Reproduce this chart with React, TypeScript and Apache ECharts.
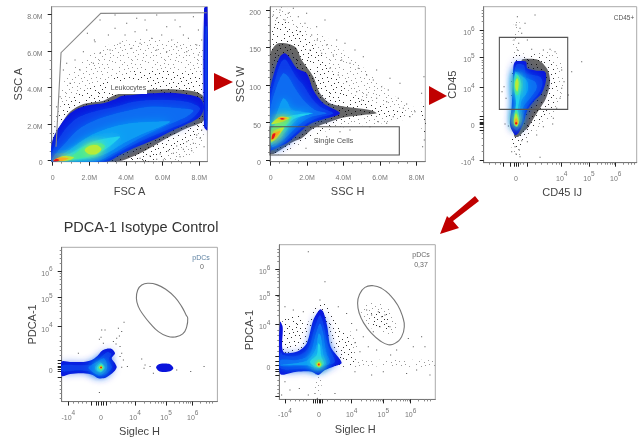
import React, { useEffect, useRef } from "react";
import * as echarts from "echarts";

type Pt = number[];
type Poly = [number, Pt[]];

const FONT = "Liberation Sans";
const levelColors = ["#0a14dc", "#0a3cea", "#0c6cf2", "#109cf4", "#20d0ee", "#40e8a0", "#b8ec38", "#f8b020", "#e81818"];

// ---- speckle tiles (hand placed dots)
const tileA = [[2, 5], [9, 1], [17, 7], [25, 3], [30, 11], [6, 13], [13, 17], [21, 14], [28, 20], [3, 23], [10, 27], [18, 24], [25, 29], [32, 30]];
const tileB = [[0, 1], [5, 2], [13, 3], [20, 1], [29, 2], [3, 8], [8, 6], [12, 9], [20, 5], [23, 8], [27, 7], [31, 5], [1, 12], [9, 11], [15, 12], [18, 11], [25, 12], [4, 17], [8, 16], [11, 20], [16, 15], [19, 19], [23, 17], [26, 16], [31, 15], [1, 19], [6, 21], [14, 22], [21, 22], [29, 24], [0, 27], [5, 26], [8, 31], [13, 28], [16, 29], [21, 27], [23, 31], [28, 32], [32, 26], [3, 31], [11, 24], [24, 22]];

// ---- panel 1 : FSC A / SSC A (axes in display channels)
const p1XMajor = [158, 268, 378, 488, 598];
const p1XMinor = [185, 213, 240, 295, 323, 350, 405, 433, 460, 515, 543, 570];
const p1XLabels = ["0", "2.0M", "4.0M", "6.0M", "8.0M"];
const p1YMajor = [20, 128, 238, 347, 457];
const p1YMinor = [47, 74, 101, 155, 183, 210, 265, 292, 320, 374, 402, 429];
const p1YLabels = ["0", "2.0M", "4.0M", "6.0M", "8.0M"];
const p1Halo: Poly[] = [
  [0, [[158, 90], [175, 200], [200, 270], [260, 330], [340, 370], [440, 385], [560, 375], [616, 360], [616, 110], [540, 60], [440, 16], [158, 16]]],
  [0, [[330, 15], [540, 15], [612, 85], [612, 150], [330, 30]]],
  [1, [[158, 85], [180, 170], [215, 210], [270, 235], [340, 265], [420, 290], [520, 285], [612, 270], [612, 130], [520, 80], [440, 45], [360, 20], [158, 15]]],
  [1, [[340, 15], [470, 18], [560, 75], [612, 120], [612, 150], [340, 30]]],
  [2, [[158, 80], [185, 130], [210, 165], [250, 188], [310, 198], [345, 215], [400, 226], [500, 232], [580, 226], [612, 208], [612, 140], [560, 115], [500, 85], [420, 40], [350, 15], [158, 15]]],
];
const p1Contours: Poly[] = [
  [0, [[157, 75], [175, 115], [205, 155], [235, 175], [270, 185], [310, 190], [345, 202], [365, 212], [400, 215], [450, 220], [510, 222], [570, 215], [600, 205], [612, 180], [600, 150], [560, 128], [510, 105], [460, 80], [400, 55], [350, 30], [320, 15], [157, 15]]],
  [0, [[612, 475], [622, 480], [622, 110], [612, 120]]],
  [1, [[157, 45], [190, 105], [230, 145], [280, 165], [340, 178], [400, 195], [480, 200], [560, 195], [600, 175], [570, 140], [500, 110], [430, 80], [360, 45], [300, 15], [157, 15]]],
  [1, [[616, 120], [621, 120], [621, 420], [616, 420]]],
  [2, [[157, 25], [195, 70], [240, 115], [300, 145], [370, 165], [450, 180], [540, 175], [580, 168], [550, 145], [480, 115], [400, 75], [340, 40], [290, 15], [157, 15]]],
  [3, [[175, 22], [215, 55], [265, 90], [325, 115], [390, 130], [460, 135], [510, 135], [470, 115], [420, 95], [370, 70], [320, 40], [260, 22]]],
  [4, [[170, 22], [215, 42], [270, 72], [320, 85], [360, 90], [345, 75], [320, 55], [290, 35], [240, 22]]],
  [5, [[175, 20], [210, 30], [255, 60], [300, 70], [315, 60], [285, 38], [235, 24]]],
  [6, [[254, 50], [268, 62], [292, 64], [304, 52], [290, 38], [266, 38]]],
  [6, [[162, 18], [190, 32], [222, 28], [210, 20], [180, 16]]],
  [7, [[160, 18], [175, 27], [205, 25], [190, 18]]],
  [8, [[160, 16], [168, 24], [178, 20], [172, 16]]],
];
const p1Dots: Pt[] = [[300, 440], [345, 455], [380, 430], [410, 445], [440, 410], [470, 455], [500, 420], [525, 440], [550, 395], [580, 450], [595, 410], [605, 380], [325, 395], [285, 375], [250, 345], [225, 320], [190, 290], [345, 415], [375, 395], [405, 405], [435, 440], [455, 385], [485, 395], [515, 380], [540, 420], [565, 385], [590, 365], [330, 350], [300, 340], [360, 370], [395, 355], [420, 370], [470, 350], [500, 345], [530, 360], [560, 345], [595, 335], [280, 310], [240, 290], [210, 250], [180, 210], [172, 150], [165, 120], [200, 310], [262, 400], [283, 380], [170, 180], [420, 25], [450, 32], [480, 38], [505, 48], [530, 62], [560, 75], [590, 95], [605, 110], [430, 18], [470, 22], [520, 40], [550, 52], [580, 70], [600, 85], [490, 20], [540, 30], [575, 48], [612, 60]];
const p1Gate: Pt[] = [[168, 60], [183, 342], [302, 460], [620, 462]];

// ---- panel 2 : SSC H / SSC W
const p2XMajor = [122, 231, 340, 450, 560];
const p2XMinor = [149, 176, 204, 258, 285, 313, 367, 395, 422, 477, 505, 532];
const p2XLabels = ["0", "2.0M", "4.0M", "6.0M", "8.0M"];
const p2YMajor = [20, 132, 245, 358, 470];
const p2YMinor = [42, 65, 87, 110, 155, 177, 200, 222, 268, 290, 313, 335, 380, 403, 425, 448];
const p2YLabels = ["0", "50", "100", "150", "200"];
const p2Halo: Poly[] = [
  [0, [[122, 330], [130, 470], [165, 478], [200, 440], [300, 380], [420, 280], [480, 220], [560, 170], [520, 140], [300, 110], [120, 40]]],
  [1, [[120, 300], [125, 400], [150, 440], [195, 420], [260, 360], [310, 280], [360, 220], [440, 190], [520, 165], [520, 150], [400, 150], [300, 120], [230, 80], [120, 40]]],
  [2, [[120, 225], [122, 340], [145, 370], [195, 360], [215, 320], [250, 270], [270, 220], [300, 190], [345, 180], [420, 170], [440, 160], [400, 155], [345, 148], [300, 135], [250, 115], [215, 85], [190, 75], [120, 40]]],
  [1, [[574, 190], [586, 190], [586, 100], [578, 100], [574, 130]]],
];
const p2Contours: Poly[] = [
  [0, [[120, 225], [135, 290], [150, 330], [165, 340], [180, 325], [200, 295], [230, 280], [250, 230], [280, 190], [330, 160], [280, 142], [240, 128], [200, 95], [170, 70], [125, 50], [120, 38]]],
  [1, [[120, 190], [138, 270], [152, 312], [165, 322], [178, 305], [198, 270], [220, 245], [245, 205], [270, 180], [310, 160], [260, 145], [225, 125], [190, 95], [160, 70], [122, 52]]],
  [2, [[120, 165], [140, 240], [160, 280], [175, 270], [195, 235], [220, 200], [255, 170], [290, 160], [240, 148], [200, 120], [165, 85], [125, 60]]],
  [3, [[122, 110], [142, 165], [160, 205], [172, 195], [185, 170], [215, 165], [250, 160], [210, 148], [175, 115], [150, 85], [123, 65]]],
  [4, [[122, 100], [150, 140], [190, 155], [245, 160], [190, 142], [165, 115], [140, 88], [124, 70]]],
  [5, [[122, 105], [145, 135], [185, 150], [175, 135], [160, 115], [140, 90], [124, 72]]],
  [6, [[124, 128], [150, 150], [178, 146], [155, 134]]],
  [6, [[122, 76], [130, 105], [162, 118], [150, 98], [135, 80]]],
  [7, [[142, 145], [158, 149], [172, 145], [156, 140]]],
  [7, [[124, 80], [132, 100], [152, 108], [142, 94]]],
  [8, [[125, 82], [128, 98], [136, 100], [132, 86]]],
  [8, [[150, 144], [158, 146], [164, 143], [156, 141]]],
];
const p2Dots: Pt[] = [[150, 470], [175, 460], [140, 445], [190, 475], [205, 450], [130, 455], [165, 440], [225, 430], [245, 395], [262, 380], [290, 365], [310, 335], [335, 320], [360, 310], [385, 295], [410, 275], [430, 260], [455, 240], [475, 230], [505, 205], [530, 188], [555, 165], [350, 255], [380, 225], [410, 215], [440, 205], [470, 195], [300, 295], [325, 275], [275, 340], [240, 350], [210, 405], [230, 460], [260, 420], [285, 440], [320, 380], [345, 370], [375, 350], [400, 330], [440, 290], [480, 265], [510, 250], [395, 200], [520, 175], [540, 150], [470, 130], [420, 120], [360, 110], [330, 105], [290, 90], [260, 75], [228, 55], [575, 220], [582, 270], [578, 60], [583, 80], [490, 150], [445, 135]];
const p2Gate: Pt[] = [[120, 120], [508, 120], [508, 35], [120, 35]];

// ---- panel 3 : CD45 IJ / CD45
const p3XMajor = [190, 210, 222, 228, 234, 262, 365, 447, 527];
const p3XMinor = [147, 165, 180, 240, 250, 285, 305, 322, 338, 350, 358, 390, 404, 415, 422, 429, 435, 441, 471, 485, 496, 503, 510, 516, 522, 551, 565, 575, 583];
const p3XLabels: [number, string][] = [[228, "0"], [365, "10|4"], [447, "10|5"], [527, "10|6"]];
const p3YMajor = [20, 110, 118, 126, 130, 134, 142, 150, 238, 328, 410];
const p3YMinor = [45, 65, 85, 100, 165, 180, 195, 210, 225, 265, 282, 295, 305, 313, 320, 352, 370, 382, 392, 400, 435, 450, 460, 470];
const p3YLabels: [number, string][] = [[20, "-10|4"], [130, "0"], [238, "10|4"], [328, "10|5"], [410, "10|6"]];
const p3Halo: Poly[] = [
  [0, [[222, 430], [238, 440], [240, 345], [345, 345], [370, 260], [345, 160], [280, 100], [245, 70], [240, 35], [218, 35], [215, 120], [218, 340]]],
  [1, [[225, 335], [300, 335], [345, 305], [352, 240], [338, 180], [310, 145], [270, 105], [240, 60], [220, 60], [215, 100], [215, 330]]],
  [2, [[245, 320], [260, 324], [295, 320], [322, 292], [330, 255], [318, 205], [298, 172], [278, 140], [262, 115], [250, 105], [235, 90], [222, 92], [225, 200]]],
];
const p3Contours: Poly[] = [
  [0, [[225, 315], [240, 317], [258, 315], [262, 295], [290, 288], [315, 285], [318, 260], [305, 220], [280, 195], [262, 170], [250, 130], [235, 100], [225, 95], [210, 125], [215, 180], [218, 250], [220, 300]]],
  [1, [[228, 305], [252, 305], [258, 280], [300, 270], [308, 250], [295, 218], [270, 190], [252, 160], [242, 125], [230, 108], [218, 125], [222, 180], [222, 250]]],
  [2, [[232, 285], [250, 270], [285, 255], [290, 235], [270, 205], [250, 180], [240, 140], [228, 120], [222, 135], [226, 190], [224, 250]]],
  [3, [[226, 285], [240, 275], [262, 255], [262, 225], [245, 200], [238, 160], [230, 130], [224, 140], [230, 190], [224, 240]]],
  [4, [[226, 280], [238, 270], [244, 245], [240, 210], [234, 175], [236, 145], [226, 125], [222, 145], [228, 190], [222, 240]]],
  [5, [[232, 275], [240, 255], [234, 215], [226, 220], [224, 250]]],
  [5, [[228, 170], [238, 145], [232, 120], [222, 125], [222, 150]]],
  [6, [[232, 265], [236, 250], [232, 225], [226, 235], [226, 255]]],
  [6, [[228, 160], [236, 135], [230, 122], [222, 135]]],
  [7, [[228, 145], [234, 132], [228, 124], [224, 132]]],
  [8, [[228, 135], [232, 130], [228, 126], [225, 130]]],
];
const p3Dots: Pt[] = [[232, 450], [228, 425], [240, 415], [245, 400], [222, 380], [236, 370], [232, 350], [285, 455], [255, 430], [262, 380], [345, 345], [330, 352], [310, 350], [275, 352], [395, 285], [365, 290], [372, 255], [425, 315], [365, 235], [360, 205], [350, 175], [340, 145], [310, 120], [290, 95], [262, 75], [195, 128], [205, 122], [186, 225], [192, 240], [198, 205], [225, 60], [238, 50], [215, 45], [240, 30], [228, 38], [245, 78], [300, 28], [385, 215], [338, 128]];
const p3Gate: Pt[] = [[178, 388], [383, 388], [383, 172], [178, 172]];

// ---- panel 4 : Siglec H / PDCA-1 (isotype)
const p4XMajor = [145, 215, 228, 235, 243, 250, 258, 345, 438, 518];
const p4XMinor = [160, 175, 188, 200, 272, 290, 310, 325, 335, 372, 392, 405, 415, 423, 430, 462, 478, 490, 498, 505, 512, 542, 558, 568, 578];
const p4XLabels: [number, string][] = [[145, "-10|4"], [243, "0"], [345, "10|4"], [438, "10|5"], [518, "10|6"]];
const p4YMajor = [98, 115, 122, 127, 132, 140, 150, 250, 338, 417];
const p4YMinor = [35, 50, 62, 75, 87, 165, 178, 192, 205, 222, 275, 295, 310, 320, 330, 362, 378, 392, 402, 410, 440, 455, 468, 478];
const p4YLabels: [number, string][] = [[127, "0"], [250, "10|4"], [338, "10|5"], [417, "10|6"]];
const p4Contours: Poly[] = [
  [0, [[125, 145], [150, 144], [190, 144], [215, 150], [232, 162], [245, 177], [258, 183], [275, 183], [285, 170], [275, 155], [285, 140], [290, 128], [282, 115], [258, 97], [235, 95], [218, 105], [190, 110], [150, 108], [125, 102]]],
  [0, [[408, 127], [415, 136], [430, 139], [450, 137], [460, 125], [450, 116], [430, 114], [416, 117]]],
  [1, [[126, 134], [180, 134], [222, 138], [244, 160], [262, 174], [274, 168], [266, 150], [276, 128], [256, 106], [235, 102], [212, 115], [170, 118], [126, 116]]],
  [2, [[205, 127], [232, 145], [252, 155], [262, 128], [248, 108], [232, 106], [215, 116]]],
  [3, [[225, 128], [240, 143], [256, 128], [243, 112], [230, 115]]],
  [4, [[230, 127], [243, 140], [253, 127], [243, 114], [232, 118]]],
  [5, [[234, 127], [243, 136], [251, 127], [243, 117]]],
  [6, [[237, 127], [243, 133], [248, 127], [243, 121]]],
  [8, [[240, 127], [243, 130], [246, 127], [243, 124]]],
];
const p4Dots: Pt[] = [[245, 240], [255, 240], [295, 245], [312, 263], [305, 235], [290, 215], [280, 205], [300, 190], [305, 170], [310, 150], [322, 130], [365, 153], [375, 135], [400, 110], [512, 115], [552, 130], [238, 52], [175, 170], [250, 200], [238, 212], [300, 160], [288, 198], [305, 128], [372, 125], [390, 130], [470, 120], [298, 222], [243, 218]];
const p4Gate: Pt[] = [[349, 335], [353, 360], [365, 375], [385, 380], [410, 376], [440, 360], [465, 338], [485, 310], [498, 285], [503, 275], [500, 250], [488, 228], [465, 219], [440, 222], [415, 235], [390, 260], [370, 285], [355, 310]];

// ---- panel 5 : Siglec H / PDCA-1 (stained)
const p5XMajor = [135, 220, 225, 232, 237, 242, 247, 335, 430, 512];
const p5XMinor = [150, 165, 178, 190, 200, 262, 282, 300, 315, 325, 364, 380, 392, 401, 409, 415, 421, 426, 455, 470, 482, 490, 497, 503, 508, 536, 552, 562, 572];
const p5XLabels: [number, string][] = [[135, "-10|4"], [237, "0"], [335, "10|4"], [430, "10|5"], [512, "10|6"]];
const p5YMajor = [102, 165, 175, 182, 195, 205, 220, 317, 405, 482];
const p5YMinor = [110, 122, 135, 150, 235, 252, 268, 285, 300, 343, 360, 375, 385, 393, 400, 428, 445, 458, 468, 476, 505, 520, 532, 542];
const p5YLabels: [number, string][] = [[195, "0"], [317, "10|4"], [405, "10|5"], [482, "10|6"]];
const p5Halo: Poly[] = [
  [0, [[365, 370], [410, 385], [460, 350], [465, 290], [420, 295], [375, 320]]],
  [1, [[390, 345], [420, 360], [450, 335], [450, 300], [420, 300], [395, 320]]],
  [0, [[310, 212], [450, 210], [586, 208], [586, 188], [450, 192], [310, 188]]],
  [0, [[225, 165], [245, 165], [240, 100], [230, 100]]],
  [0, [[290, 300], [340, 290], [350, 220], [310, 205], [290, 230]]],
  [1, [[128, 232], [130, 335], [170, 345], [205, 325], [225, 370], [245, 385], [265, 365], [295, 320], [330, 270], [345, 205], [305, 190], [200, 200]]],
];
const p5Contours: Poly[] = [
  [0, [[120, 325], [128, 310], [130, 235], [170, 235], [200, 260], [220, 330], [240, 362], [250, 355], [262, 310], [272, 250], [305, 202], [280, 190], [255, 180], [235, 165], [215, 175], [170, 175], [120, 170]]],
  [1, [[122, 235], [130, 225], [170, 222], [205, 245], [225, 310], [240, 345], [250, 320], [262, 260], [285, 205], [255, 192], [235, 178], [210, 185], [122, 185]]],
  [2, [[122, 210], [170, 210], [208, 225], [228, 290], [240, 320], [250, 290], [258, 235], [270, 203], [248, 190], [232, 182], [205, 192], [122, 192]]],
  [3, [[122, 195], [200, 208], [226, 240], [236, 290], [243, 280], [250, 225], [258, 200], [240, 187], [225, 187], [200, 195]]],
  [4, [[210, 205], [230, 225], [235, 260], [240, 255], [244, 220], [252, 200], [238, 188], [225, 190]]],
  [5, [[225, 200], [237, 212], [248, 198], [238, 187]]],
  [6, [[229, 197], [237, 205], [244, 197], [237, 189]]],
  [7, [[232, 197], [237, 202], [241, 197], [237, 192]]],
  [8, [[234, 197], [237, 200], [239, 197], [237, 194]]],
];
const p5Dots: Pt[] = [[205, 535], [255, 445], [240, 390], [135, 370], [160, 360], [190, 355], [295, 370], [320, 350], [335, 320], [350, 300], [370, 280], [385, 250], [410, 240], [345, 262], [360, 235], [505, 275], [520, 250], [545, 280], [470, 240], [452, 225], [555, 250], [150, 120], [125, 105], [135, 145], [205, 105], [232, 95], [240, 75], [225, 110], [178, 125], [285, 110], [430, 175], [500, 170], [570, 165], [530, 180], [395, 165], [345, 175], [415, 355], [440, 320], [425, 340], [395, 345], [380, 360], [450, 310], [400, 295], [435, 345], [420, 310]];
const p5Gate: Pt[] = [[353, 380], [358, 405], [375, 428], [400, 433], [425, 425], [450, 405], [473, 375], [488, 340], [493, 310], [485, 280], [465, 260], [445, 256], [420, 268], [395, 290], [372, 320], [358, 350]];

const makeTile = (dots: number[][], bg: string | null, fg: string) => {
  const c = document.createElement("canvas");
  c.width = 33;
  c.height = 33;
  const ctx = c.getContext("2d")!;
  if (bg) {
    ctx.fillStyle = bg;
    ctx.fillRect(0, 0, 33, 33);
  }
  ctx.fillStyle = fg;
  dots.forEach(([x, y]) => ctx.fillRect(x, y, 1, 1));
  return c;
};

const polySeries = (a: number, polys: Poly[], fillOf: (l: number) => any, z: number, soft: boolean) => ({
  type: "custom",
  coordinateSystem: "cartesian2d",
  xAxisIndex: a,
  yAxisIndex: a,
  clip: true,
  silent: true,
  z,
  data: polys.map((p) => p[1][0]),
  renderItem: (params: any, api: any) => {
    const [lvl, pts] = polys[params.dataIndex];
    const style: any = { fill: fillOf(lvl) };
    if (soft && lvl > 0) {
      style.shadowBlur = 10;
      style.shadowColor = levelColors[lvl];
    }
    return {
      type: "polygon",
      shape: { points: pts.map((p) => api.coord(p)), smooth: 0.3 },
      style,
    };
  },
});

const gateSeries = (a: number, pts: Pt[], closed: boolean, smooth: boolean, color: string) => ({
  type: "custom",
  coordinateSystem: "cartesian2d",
  xAxisIndex: a,
  yAxisIndex: a,
  silent: true,
  z: 5,
  data: [pts[0]],
  renderItem: (_p: any, api: any) => ({
    type: closed ? "polygon" : "polyline",
    shape: { points: pts.map((p) => api.coord(p)), smooth: smooth ? 0.5 : 0 },
    style: { fill: "none", stroke: color, lineWidth: 1.1 },
  }),
});

const dotSeries = (a: number, pts: Pt[]) => ({
  type: "scatter",
  xAxisIndex: a,
  yAxisIndex: a,
  symbol: "rect",
  symbolSize: 1,
  silent: true,
  z: 3,
  itemStyle: { color: "#222" },
  data: pts,
});

const supLabel = (map: [number, string][]) => (v: number) => {
  const hit = map.find((m) => m[0] === v);
  if (!hit) return "";
  const [b, s] = hit[1].split("|");
  return s ? `{b|${b}}{s|${s}}` : `{b|${b}}`;
};

const labelRich = {
  b: { fontFamily: FONT, fontSize: 7, color: "#777", padding: [5, 0, 0, 0] },
  s: { fontFamily: FONT, fontSize: 6.5, color: "#777", padding: [0, 0, 4, 0] },
};

const axisPair = (
  dim: "x" | "y",
  grid: number,
  min: number,
  max: number,
  major: number[],
  minor: number[],
  labels: [number, string][],
  name: string,
  gap: number,
  namePad: number[],
) => {
  const position = dim === "x" ? "bottom" : "left";
  const base = { type: "value", gridIndex: grid, min, max, position, splitLine: { show: false } };
  return [
    {
      ...base,
      name,
      nameLocation: "middle",
      nameGap: gap,
      nameTextStyle: { fontFamily: FONT, fontSize: 11, color: "#444", padding: namePad },
      axisLine: { show: true, onZero: false, lineStyle: { color: "#777", width: 1 } },
      axisTick: { show: true, length: 4, customValues: major, lineStyle: { color: "#222", width: 1 } },
      axisLabel: {
        show: true,
        customValues: labels.map((l) => l[0]),
        formatter: supLabel(labels),
        rich: labelRich,
        margin: dim === "x" ? 7 : 9,
        hideOverlap: false,
        showMinLabel: true,
        showMaxLabel: true,
      },
    },
    {
      ...base,
      axisLine: { show: false, onZero: false },
      axisTick: { show: true, length: 2, customValues: minor, lineStyle: { color: "#888", width: 1 } },
      axisLabel: { show: false },
    },
  ];
};

const toLabels = (vals: number[], names: string[]): [number, string][] => vals.map((v, i) => [v, names[i]]);

export default function App() {
  const ref = useRef<HTMLDivElement>(null);
  useEffect(() => {
    document.body.style.margin = "0";
    const chart = echarts.init(ref.current!, null, { renderer: "svg" });
    const tiles = [
      { image: makeTile([...tileA, ...tileB], null, "#999"), repeat: "repeat" },
      { image: makeTile([...tileA, ...tileB], null, "#333"), repeat: "repeat" },
      { image: makeTile([...tileA, ...tileB], "#666", "#111"), repeat: "repeat" },
    ];
    const haloFill = (l: number) => tiles[l];
    const levelFill = (l: number) => levelColors[l];

    const xAxes = [
      ...axisPair("x", 0, 155, 622, p1XMajor, p1XMinor, toLabels(p1XMajor, p1XLabels), "FSC A", 24, [0, 0, 0, 0]),
      ...axisPair("x", 1, 120, 586, p2XMajor, p2XMinor, toLabels(p2XMajor, p2XLabels), "SSC H", 24, [0, 0, 0, 0]),
      ...axisPair("x", 2, 131, 590, p3XMajor, p3XMinor, p3XLabels, "CD45 IJ", 24, [0, 0, 0, 4]),
      ...axisPair("x", 3, 125, 592, p4XMajor, p4XMinor, p4XLabels, "Siglec H", 24, [0, 0, 0, 0]),
      ...axisPair("x", 4, 118, 586, p5XMajor, p5XMinor, p5XLabels, "Siglec H", 24, [0, 4, 0, 0]),
    ];
    const yAxes = [
      ...axisPair("y", 0, 15, 480, p1YMajor, p1YMinor, toLabels(p1YMajor, p1YLabels), "SSC A", 23, [0, 0, 0, 0]),
      ...axisPair("y", 1, 15, 480, p2YMajor, p2YMinor, toLabels(p2YMajor, p2YLabels), "SSC W", 20, [0, 0, 0, 0]),
      ...axisPair("y", 2, 12, 480, p3YMajor, p3YMinor, p3YLabels, "CD45", 19, [0, 0, 0, 0]),
      ...axisPair("y", 3, 25, 488, p4YMajor, p4YMinor, p4YLabels, "PDCA-1", 20, [0, 0, 0, 0]),
      ...axisPair("y", 4, 92, 556, p5YMajor, p5YMinor, p5YLabels, "PDCA-1", 20, [0, 16, 0, 0]),
    ];

    const grid = (left: number, top: number, width: number, height: number) => ({
      left, top, width, height, show: true, borderColor: "#aaa", borderWidth: 1, backgroundColor: "#fff",
    });

    const txt = (x: number, y: number, text: string, size: number, color: string, align = "center") => ({
      type: "text",
      x,
      y,
      style: { text, fontFamily: FONT, fontSize: size, fill: color, align, verticalAlign: "middle" },
      z: 20,
    });

    chart.setOption({
      animation: false,
      backgroundColor: "#fff",
      grid: [
        grid(51.7, 6.7, 155.7, 155),
        grid(270, 6.7, 155.3, 155),
        grid(483.7, 6.7, 153, 156),
        grid(61.7, 247.3, 155.7, 154.3),
        grid(279.3, 244.7, 156, 154.7),
      ],
      xAxis: xAxes,
      yAxis: yAxes,
      series: [
        polySeries(0, p1Halo, haloFill, 1, false), dotSeries(0, p1Dots), polySeries(0, p1Contours, levelFill, 4, true), gateSeries(0, p1Gate, false, false, "#888"),
        polySeries(2, p2Halo, haloFill, 1, false), dotSeries(2, p2Dots), polySeries(2, p2Contours, levelFill, 4, true), gateSeries(2, p2Gate, true, false, "#555"),
        polySeries(4, p3Halo, haloFill, 1, false), dotSeries(4, p3Dots), polySeries(4, p3Contours, levelFill, 4, true), gateSeries(4, p3Gate, true, false, "#555"),
        dotSeries(6, p4Dots), polySeries(6, p4Contours, levelFill, 4, true), gateSeries(6, p4Gate, true, true, "#777"),
        polySeries(8, p5Halo, haloFill, 1, false), dotSeries(8, p5Dots), polySeries(8, p5Contours, levelFill, 4, true), gateSeries(8, p5Gate, true, true, "#777"),
      ],
      graphic: [
        { type: "polygon", shape: { points: [[214, 73], [233, 82], [214, 91]] }, style: { fill: "#c00000" }, z: 20 },
        { type: "polygon", shape: { points: [[429, 86], [447, 96], [429, 105]] }, style: { fill: "#c00000" }, z: 20 },
        { type: "polygon", shape: { points: [[440, 234], [459, 228], [453, 221], [479, 201], [475, 196], [449, 218], [447, 216]] }, style: { fill: "#c00000" }, z: 20 },
        { type: "rect", shape: { x: 110, y: 81, width: 37, height: 13 }, style: { fill: "#fff" }, z: 19 },
        txt(128.5, 87.5, "Leukocytes", 7, "#555"),
        txt(333.5, 140.5, "Single Cells", 7.5, "#555"),
        txt(624, 17, "CD45+", 6.5, "#555"),
        txt(201, 257, "pDCs", 7, "#5a7fa0"),
        txt(202, 266.5, "0", 7, "#666"),
        txt(421, 254.5, "pDCs", 7, "#666"),
        txt(421, 264, "0,37", 7, "#666"),
        txt(141, 227, "PDCA-1 Isotype Control", 14.5, "#333"),
      ],
    });
    return () => chart.dispose();
  }, []);
  return <div ref={ref} style={{ width: 644, height: 438, filter: "blur(0.5px)" }} />;
}
